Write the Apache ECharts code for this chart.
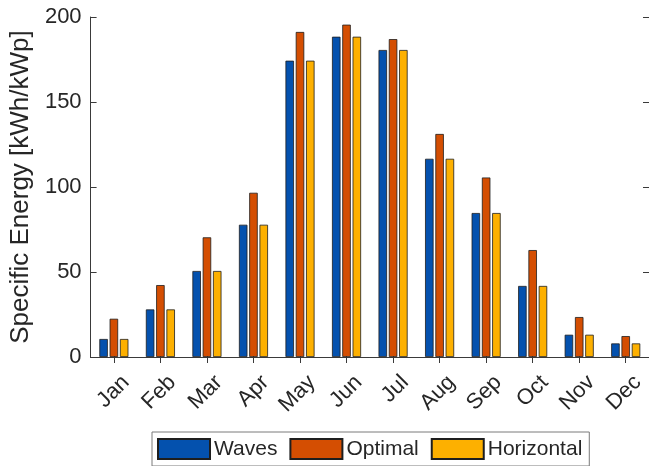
<!DOCTYPE html>
<html>
<head>
<meta charset="utf-8">
<script src="https://cdn.jsdelivr.net/npm/echarts@6/dist/echarts.min.js"></script>
<style>
  html, body { margin: 0; padding: 0; background: #fff; }
  #chart { width: 649px; height: 466px; }
</style>
</head>
<body>
<div id="chart"></div>
<script>
// Monthly specific energy yield per orientation
const months = ['Jan', 'Feb', 'Mar', 'Apr', 'May', 'Jun', 'Jul', 'Aug', 'Sep', 'Oct', 'Nov', 'Dec'];
const waves = [10.6, 28, 50.6, 77.8, 174.3, 188.4, 180.6, 116.6, 84.7, 41.8, 13.1, 8];
const optimal = [22.5, 42.3, 70.4, 96.6, 191.2, 195.5, 187, 131.2, 105.6, 62.9, 23.5, 12.3];
const horizontal = [10.6, 28, 50.6, 77.8, 174.3, 188.4, 180.6, 116.6, 84.7, 41.8, 13.1, 8];
const yTicks = [0, 50, 100, 150, 200];

const FONT = '"Liberation Sans", Arial, Helvetica, sans-serif';
const AXIS_COLOR = '#3a3a3a';
const TEXT_COLOR = '#262626';

const chart = echarts.init(document.getElementById('chart'), null, { renderer: 'canvas' });

function barSeries(name, data, color) {
  return {
    name: name,
    type: 'bar',
    data: data,
    barWidth: 8.5,
    barGap: '21%',
    itemStyle: { color: color, borderColor: '#1e1e1e', borderWidth: 0.8 }
  };
}

const option = {
  backgroundColor: '#ffffff',
  animation: false,
  textStyle: { fontFamily: FONT },
  grid: { left: 90, right: -3, top: 17, bottom: 109, containLabel: false },
  legend: {
    bottom: 0,
    left: 152,
    orient: 'horizontal',
    icon: 'rect',
    itemWidth: 52,
    itemHeight: 20,
    itemGap: 12,
    padding: [6, 7, 6, 5],
    borderColor: '#7a7a7a',
    borderWidth: 1,
    backgroundColor: '#fff',
    textStyle: { fontSize: 21, color: TEXT_COLOR, fontFamily: FONT, padding: [0, 0, 0, -1] },
    data: ['Waves', 'Optimal', 'Horizontal']
  },
  xAxis: [
    {
      type: 'category',
      data: months,
      position: 'bottom',
      boundaryGap: true,
      axisLine: { show: true, lineStyle: { color: AXIS_COLOR, width: 1 } },
      axisTick: { show: true, inside: true, length: 5, alignWithLabel: true, lineStyle: { color: AXIS_COLOR } },
      axisLabel: {
        rotate: 45, fontSize: 22, color: TEXT_COLOR, fontFamily: FONT, margin: 10,
        verticalAlign: 'top', padding: [6, 0, 0, 0]
      }
    },
    {
      type: 'category',
      data: months,
      position: 'top',
      boundaryGap: true,
      axisLine: { show: true, lineStyle: { color: AXIS_COLOR, width: 1 } },
      axisTick: { show: true, inside: true, length: 6, alignWithLabel: true, lineStyle: { color: AXIS_COLOR } },
      axisLabel: { show: false }
    }
  ],
  yAxis: [
    {
      type: 'value',
      min: 0,
      max: 200,
      interval: 50,
      position: 'left',
      name: 'Specific Energy [kWh/kWp]',
      nameLocation: 'middle',
      nameGap: 56,
      nameTextStyle: { fontSize: 26, color: TEXT_COLOR, fontFamily: FONT },
      axisLine: { show: true, lineStyle: { color: AXIS_COLOR, width: 1 } },
      axisTick: { show: true, inside: true, length: 6, lineStyle: { color: AXIS_COLOR } },
      axisLabel: {
        fontSize: 22, color: TEXT_COLOR, fontFamily: FONT, margin: 9,
        formatter: v => (yTicks.includes(v) ? String(v) : '')
      },
      splitLine: { show: false }
    },
    {
      type: 'value',
      min: 0,
      max: 200,
      interval: 50,
      position: 'right',
      axisLine: { show: true, lineStyle: { color: AXIS_COLOR, width: 1 } },
      axisTick: { show: true, inside: true, length: 6, lineStyle: { color: AXIS_COLOR } },
      axisLabel: { show: false },
      splitLine: { show: false }
    }
  ],
  series: [
    barSeries('Waves', waves, '#0451AE'),
    barSeries('Optimal', optimal, '#D44E02'),
    barSeries('Horizontal', horizontal, '#FDB000')
  ]
};

chart.setOption(option);
</script>
</body>
</html>
